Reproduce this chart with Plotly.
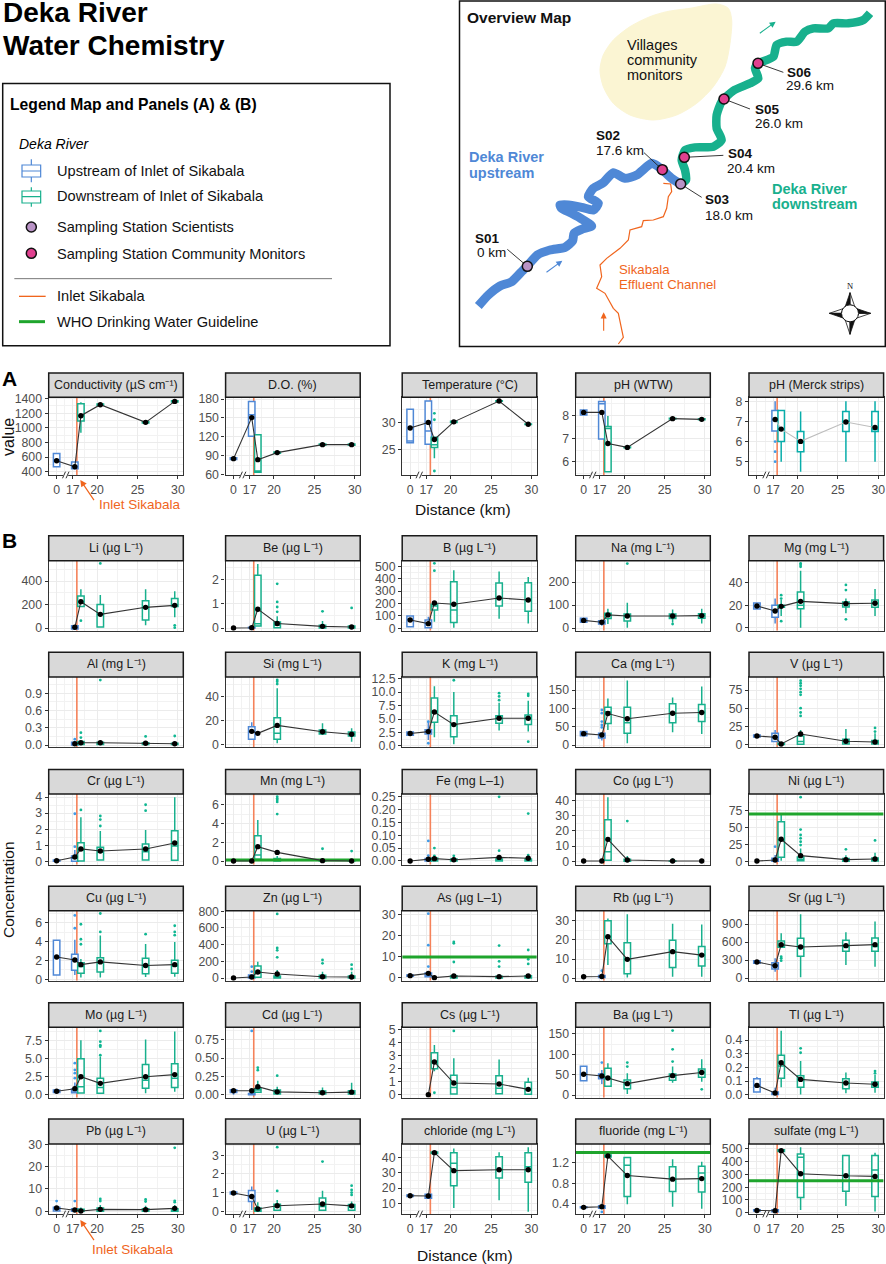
import plotly.graph_objects as go

W, H = 886, 1264
FONT = "Liberation Sans"

# station positions on the broken distance axis (0 km is drawn at 15)
station_x = [15, 17.25, 18, 20.4, 26, 29.6]
x_tick_vals = [15, 17, 20, 25, 30]
x_tick_text = ["0", "17", "20", "25", "30"]
x_minor = [16, 18.5, 22.5, 27.5]
inlet_x = 17.5

# each panel: mean per station, box per station (low, q1, median, q3, high), outliers (station, value), y tick labels
cond_mean = [551, 468, 1167, 1318, 1076, 1363]
cond_box = [(468, 468, 560, 651, 651), (441, 441, 468, 532, 532), (934, 1094, 1167, 1331, 1350), (1308, 1310, 1318, 1326, 1328), (1066, 1068, 1076, 1084, 1086), (1353, 1355, 1363, 1371, 1373)]
cond_out = []
cond_ticks = ["400", "600", "800", "1000", "1200", "1400"]

do_mean = [85.4, 150.5, 83.8, 95, 107.6, 107.6]
do_box = [(84, 84, 85.4, 87, 87), (121, 121, 155, 176, 176), (63.7, 63.7, 66, 123.5, 123.5), (94, 94, 95, 96, 96), (106.5, 106.5, 107.6, 108.7, 108.7), (106.5, 106.5, 107.6, 108.7, 108.7)]
do_out = []
do_ticks = ["60", "90", "120", "150", "180"]

temp_mean = [29.06, 30.1, 26.9, 30.2, 34.1, 29.75]
temp_box = [(26.3, 26.3, 26.6, 32.56, 32.56), (26, 26, 28.5, 34.1, 34.1), (23.4, 25.4, 25.9, 27.3, 27.3), (30, 30.1, 30.2, 30.3, 30.4), (34, 34.05, 34.1, 34.15, 34.2), (29.6, 29.7, 29.75, 29.8, 29.9)]
temp_out = [(2, 31.8), (2, 30.6), (2, 21)]
temp_ticks = ["25", "30"]

phw_mean = [8.13, 8.13, 6.79, 6.62, 7.86, 7.83]
phw_box = [(8.02, 8.02, 8.13, 8.23, 8.23), (6.98, 6.98, 8.5, 8.6, 8.6), (5.57, 5.57, 7.44, 7.52, 7.97), (6.6, 6.6, 6.62, 6.64, 6.64), (7.84, 7.84, 7.86, 7.88, 7.88), (7.81, 7.81, 7.83, 7.85, 7.85)]
phw_out = []
phw_ticks = ["6", "7", "8"]

phm_mean = [None, 7.1, 6.62, 6.01, 6.97, 6.7]
phm_box = [None, (6.52, 6.52, 7.1, 7.54, 8), (5, 6, 6.62, 7.54, 7.54), (4.5, 5.5, 6, 6.5, 7.5), (5, 6.5, 7, 7.5, 8), (5, 6.5, 6.6, 7.5, 8)]
phm_out = [(1, 6), (1, 5.5), (1, 5)]
phm_ticks = ["5", "6", "7", "8"]

li_mean = [None, 6, 224, 116, 176, 193]
li_box = [None, (-8, -8, 5, 20, 20), (182, 182, 224, 272, 329), (8, 8, 116, 201, 281), (23, 68, 176, 233, 329), (91, 182, 196, 252, 312)]
li_out = [(2, 62), (3, 550), (5, 23), (5, 3)]
li_ticks = ["0", "200", "400"]

be_mean = [0, 0.01, 0.78, 0.19, 0.07, 0.04]
be_box = [None, (0, 0, 0.01, 0.03, 0.12), (0.08, 0.08, 0.18, 2.18, 2.65), (0.01, 0.01, 0.12, 0.25, 0.49), (0, 0, 0.05, 0.12, 0.29), (0, 0, 0.02, 0.08, 0.08)]
be_out = [(3, 0.67), (3, 0.87), (3, 1.08), (3, 1.83), (4, 0.69), (5, 0.83)]
be_ticks = ["0", "1", "2"]

b_mean = [67, 38, 204, 194, 245, 228]
b_box = [(13, 13, 72, 99, 99), (5, 5, 35, 67, 94), (54, 148, 180, 194, 194), (5, 48, 148, 376, 468), (78, 180, 245, 366, 457), (40, 137, 228, 368, 414)]
b_out = [(2, 524), (2, 465)]
b_ticks = ["0", "100", "200", "300", "400", "500"]

na_mean = [33, 25, 57, 52, 52, 54]
na_box = [(25, 25, 33, 42, 42), (10, 17, 25, 32, 32), (17, 41, 57, 64, 84), (1, 30, 52, 61, 110), (23, 41, 52, 61, 81), (20, 42, 54, 62, 84)]
na_out = [(3, 280), (4, 17)]
na_ticks = ["0", "100", "200"]

mg_mean = [19.4, 15, 19.1, 23.5, 21.5, 21.8]
mg_box = [(16.8, 16.8, 19.4, 22, 22), (4, 9.4, 15, 20, 26), (10.6, 18.2, 19, 20, 24.7), (0.3, 17, 20, 31.8, 50.6), (13, 18.5, 21.8, 23, 26), (10.6, 18.2, 21.8, 24.7, 34.4)]
mg_out = [(2, 29), (2, 26), (2, 6), (3, 57), (3, 55.6), (3, 54), (4, 38), (4, 33.5), (4, 7.6)]
mg_ticks = ["0", "20", "40"]

al_mean = [None, 0.023, 0.04, 0.04, 0.03, 0.023]
al_box = [None, (0, 0, 0.02, 0.05, 0.05), (0.01, 0.01, 0.03, 0.06, 0.06), (0.01, 0.01, 0.03, 0.05, 0.05), (0.01, 0.01, 0.02, 0.04, 0.04), (0.01, 0.01, 0.02, 0.03, 0.03)]
al_out = [(1, 0.1), (2, 0.215), (2, 0.13), (3, 1.13), (4, 0.15), (5, 0.157)]
al_ticks = ["0.0", "0.3", "0.6", "0.9"]

si_mean = [None, 10.9, 9.2, 15.9, 10.6, 8.4]
si_box = [None, (4.2, 4.2, 10.6, 14.8, 18.5), None, (0.8, 4.2, 9.2, 22.4, 47), (7.8, 8.7, 10.6, 12, 17.6), (2.2, 7, 8.4, 10.3, 13.4)]
si_out = [(3, 54), (3, 52.6), (3, 50.6)]
si_ticks = ["0", "20", "40"]

k_mean = [2.3, 2.66, 6.3, 3.96, 5.14, 5.14]
k_box = [(2, 2, 2.3, 2.6, 2.6), (1.1, 2.2, 2.66, 3, 4.7), (1.6, 4.4, 6.3, 8.9, 11.1), (0.3, 1.7, 3.96, 5.6, 10), (2.85, 4.2, 5.14, 5.6, 8), (2.66, 4, 5.14, 5.75, 8.4)]
k_out = [(1, 0.5), (1, 4.5), (3, 12.2), (4, 9.8), (4, 9.2), (4, 8.5), (5, 9.65), (5, 9.3), (5, 0.8)]
k_ticks = ["0.0", "2.5", "5.0", "7.5", "10.0", "12.5"]

ca_mean = [31, 27.4, 86, 72, 87, 88.7]
ca_box = [(25.6, 25.6, 31, 36.6, 36.6), (12, 19, 27.4, 32, 32), (41, 58.6, 91, 103, 127), (4.6, 32, 61, 103, 176.6), (35, 61, 87, 112.5, 130), (30, 64, 88.7, 110.7, 160)]
ca_out = [(1, 96), (1, 87), (1, 64), (1, 55), (1, 48)]
ca_ticks = ["0", "50", "100", "150"]

v_mean = [12.3, 10.5, 1.4, 15, 5, 4.1]
v_box = [(10.8, 10.8, 12.3, 13.7, 13.7), (4.6, 4.6, 10.5, 16, 20.6), (0.5, 0.5, 1.4, 2.5, 2.5), (0.9, 0.9, 4.6, 12.3, 20.6), (1.4, 1.4, 5, 7.8, 22), (1.4, 1.4, 4.1, 6, 16)]
v_out = [(3, 88), (3, 84.6), (3, 81), (3, 76.8), (3, 72.2), (3, 68.6), (3, 50.3), (3, 44.4), (3, 39.8), (5, 23.3), (5, 18.3)]
v_ticks = ["0", "25", "50", "75"]

cr_mean = [0.04, 0.27, 0.77, 0.64, 0.77, 1.14]
cr_box = [(0, 0, 0.04, 0.08, 0.08), (0, 0, 0.19, 0.33, 0.7), (0.02, 0.02, 0.7, 1.16, 2.74), (0.08, 0.08, 0.56, 0.87, 1.89), (0.08, 0.08, 0.6, 1.08, 1.95), (0.06, 0.06, 0.95, 1.9, 3.98)]
cr_out = [(1, 0.91), (1, 2.96), (2, 3.2), (3, 2.82), (3, 2.6), (3, 2.2), (4, 3.52), (4, 3.15)]
cr_ticks = ["0", "1", "2", "3", "4"]

mn_mean = [0, 0, 1.53, 0.92, 0.04, 0]
mn_box = [None, None, (0.18, 0.18, 0.64, 2.7, 4.37), (0, 0, 0.1, 0.28, 0.53), (0, 0, 0.02, 0.08, 0.28), (0, 0, 0.01, 0.05, 0.05)]
mn_out = [(3, 5), (3, 6.3), (3, 6.5), (3, 6.67), (3, 6.85), (4, 1.31), (5, 1.06)]
mn_ticks = ["0", "2", "4", "6"]

fe_mean = [0, 0.0065, 0.009, 0.005, 0.014, 0.0104]
fe_box = [None, (0, 0, 0.004, 0.01, 0.01), (0, 0, 0.005, 0.012, 0.012), (0, 0, 0.003, 0.008, 0.008), (0, 0, 0.004, 0.008, 0.008), (0, 0, 0.003, 0.008, 0.008)]
fe_out = [(1, 0.078), (1, 0.021), (2, 0.05), (2, 0.02), (3, 0.02), (4, 0.249), (4, 0.04), (5, 0.184), (5, 0.023)]
fe_ticks = ["0.00", "0.05", "0.10", "0.15", "0.20", "0.25"]

co_mean = [0.2, 0.2, 14.4, 0.9, 0.2, 0.2]
co_box = [None, None, (0.65, 0.65, 6.3, 27.3, 42), (0, 0, 0.5, 1.3, 3.5), (0, 0, 0.1, 0.3, 2), None]
co_out = [(3, 26.4)]
co_ticks = ["0", "10", "20", "30", "40"]

ni_mean = [0.5, 2, 32.6, 8.4, 2.5, 3.5]
ni_box = [None, (0, 0, 1.5, 4.4, 9.4), (1, 6, 31.6, 58.7, 70), (1, 1, 3, 6.4, 19), (0, 0, 2, 4, 9), (0.5, 0.5, 3, 5, 12.8)]
ni_out = [(1, 21.7), (3, 95), (3, 47), (3, 39), (3, 34), (3, 29), (3, 24), (4, 17.8), (5, 31)]
ni_ticks = ["0", "25", "50", "75"]

cu_mean = [2.38, 2.06, 1.56, 1.85, 1.46, 1.56]
cu_box = [(0.46, 0.46, 2.38, 4.15, 4.15), (0.46, 0.96, 2.06, 2.66, 4.2), (0.18, 0.64, 1.35, 1.77, 2.17), (0.2, 0.78, 1.77, 2.3, 4.65), (0.25, 0.6, 1.35, 2.24, 3.76), (0.28, 0.64, 1.42, 2.02, 3.98)]
cu_out = [(1, 6.8), (1, 5.43), (2, 5.86), (2, 4.26), (2, 3.73), (3, 7), (3, 5.04), (4, 4.8), (5, 5.7), (5, 5.04), (5, 4.7)]
cu_ticks = ["0", "2", "4", "6"]

zn_mean = [0, 12, 72, 48, 16, 12]
zn_box = [None, (0, 0, 6, 36, 36), (8, 8, 56, 144, 196), (0, 0, 8, 24, 96), (0, 0, 8, 32, 76), (0, 0, 6, 24, 76)]
zn_out = [(1, 136), (1, 76), (3, 768), (3, 360), (3, 332), (3, 248), (4, 216), (4, 176), (5, 160), (5, 108)]
zn_ticks = ["0", "200", "400", "600", "800"]

as_mean = [1.1, 2.2, 0.16, 0.95, 0.63, 0.95]
as_box = [(0.8, 0.8, 1.1, 1.4, 1.4), (0.6, 0.6, 1.2, 2.4, 2.4), None, (0, 0, 0.4, 1, 1), (0, 0, 0.3, 0.8, 0.8), (0, 0, 0.4, 1, 1)]
as_out = [(1, 30.6), (1, 15.6), (1, 5.4), (3, 17.1), (3, 16.5), (3, 7.6), (4, 15.4), (4, 7.9), (4, 5.4), (5, 13.3), (5, 8.9), (5, 6.7)]
as_ticks = ["0", "10", "20", "30"]

rb_mean = [0.87, 1, 21.7, 9.9, 13.9, 12.1]
rb_box = [None, (0.5, 0.5, 1, 1.5, 1.5), (6.9, 18, 21.7, 30, 31.2), (0.5, 2.4, 9.9, 18.5, 33.3), (0.9, 5.7, 13.9, 19.8, 28.4), (0.9, 6.4, 12.1, 16.6, 28)]
rb_out = [(1, 4)]
rb_ticks = ["0", "10", "20", "30"]

sr_mean = [267, 205, 556, 517, 539, 556]
sr_box = [(244, 244, 267, 289, 289), (105, 150, 205, 255, 328), (511, 511, 524, 617, 744), (11, 361, 531, 661, 1061), (217, 444, 527, 628, 761), (189, 444, 524, 667, 944)]
sr_out = [(2, 356), (2, 328), (2, 289)]
sr_ticks = ["0", "300", "600", "900"]

mo_mean = [0.47, 0.84, 2.5, 1.58, 2.5, 2.8]
mo_box = [(0.3, 0.3, 0.47, 0.65, 0.65), (0.28, 0.28, 0.5, 0.8, 1.7), (0.23, 0.23, 1.1, 5, 7.6), (0.1, 0.2, 1, 2.3, 5.3), (0.2, 0.9, 2, 4.2, 7.7), (0.4, 1, 2.3, 4.3, 8.8)]
mo_out = [(1, 4.4), (1, 3.45), (1, 3), (1, 2.3), (3, 8.9), (3, 7.4), (3, 6.9), (3, 6.7), (3, 5.5)]
mo_ticks = ["0.0", "2.5", "5.0", "7.5"]

cd_mean = [0.055, 0.055, 0.11, 0.04, 0.027, 0.036]
cd_box = [(0, 0.03, 0.05, 0.07, 0.07), (0, 0, 0.005, 0.018, 0.018), (0.036, 0.036, 0.064, 0.086, 0.19), (0.01, 0.01, 0.035, 0.064, 0.11), (0.01, 0.01, 0.025, 0.05, 0.1), (0.01, 0.01, 0.03, 0.055, 0.164)]
cd_out = [(1, 0.87), (2, 0.37), (2, 0.336), (3, 0.26)]
cd_ticks = ["0.00", "0.25", "0.50", "0.75"]

cs_mean = [None, 0, 2.51, 0.9, 0.82, 0.41]
cs_box = [None, None, (1.8, 2, 2.51, 3.23, 3.82), (0.05, 0.05, 0.56, 1.5, 2.8), (0.08, 0.08, 0.49, 1.46, 2.7), (0.03, 0.03, 0.36, 0.95, 1.3)]
cs_out = [(2, 0.15), (3, 4.9)]
cs_ticks = ["0", "1", "2", "3", "4", "5"]

ba_mean = [50.8, 46.7, 41.8, 27.9, 47.5, 55]
ba_box = [(35, 35, 50.8, 70.5, 70.5), (27, 40, 46.7, 51.6, 61.5), (21.3, 21.3, 41, 65.6, 77.9), (2.5, 15.6, 27, 36.9, 53.3), (30, 36, 45, 51.6, 69.7), (32.8, 43.4, 55, 63.9, 87.7)]
ba_out = [(1, 79.5), (3, 79.5), (3, 69.7), (4, 158), (4, 112), (4, 82), (5, 14)]
ba_ticks = ["0", "50", "100", "150"]

tl_mean = [0.068, 0.012, 0.234, 0.112, 0.085, 0.076]
tl_box = [(0.02, 0.02, 0.068, 0.117, 0.13), (0.002, 0.002, 0.01, 0.02, 0.05), (0.054, 0.12, 0.21, 0.288, 0.468), (0.002, 0.054, 0.112, 0.139, 0.246), (0.01, 0.044, 0.085, 0.117, 0.163), (0.015, 0.054, 0.076, 0.093, 0.144)]
tl_out = [(3, 0.339), (3, 0.307), (5, 0.173), (5, 0.156)]
tl_ticks = ["0.0", "0.1", "0.2", "0.3", "0.4"]

pb_mean = [1.48, 0.59, 0.15, 0.89, 0.74, 1.33]
pb_box = [(0.15, 0.15, 1, 1.77, 1.77), (0, 0, 0.6, 1.2, 1.2), (0, 0, 0.1, 0.9, 1.7), (0, 0, 0.6, 1.5, 2.8), (0, 0, 0.5, 1.2, 2.5), (0, 0, 0.5, 1.1, 2.8)]
pb_out = [(0, 4.6), (1, 4.6), (3, 5.5), (3, 4.6), (4, 5.3), (4, 4.4), (5, 28.4), (5, 4.7), (5, 4.1)]
pb_ticks = ["0", "10", "20", "30"]

u_mean = [0.98, 0.79, 0.125, 0.3, 0.39, 0.29]
u_box = [(0.93, 0.93, 0.98, 1.03, 1.03), (0.07, 0.52, 0.79, 1.11, 1.32), (0, 0, 0.1, 0.18, 0.48), (0.05, 0.05, 0.25, 0.375, 0.6), (0.05, 0.05, 0.25, 0.71, 1.1), (0.05, 0.05, 0.21, 0.36, 0.52)]
u_out = [(3, 3.43), (3, 1.09), (4, 2.66), (5, 1.37), (5, 1.14), (5, 1), (5, 0.875)]
u_ticks = ["0", "1", "2", "3"]

cl_mean = [15, 14.8, 43.3, 31.5, 32.1, 32.1]
cl_box = [(14.5, 14.5, 15, 15.5, 15.5), (13.3, 13.3, 14.8, 16, 16), (42.8, 42.8, 43.3, 43.8, 43.8), (7, 21.6, 36.3, 43.3, 46), (12, 26.6, 32.1, 40.7, 43.5), (4.5, 23.8, 34, 43.3, 46.8)]
cl_out = []
cl_ticks = ["10", "20", "30", "40"]

f_mean = [0.33, 0.34, 1.33, 0.95, 0.88, 0.89]
f_box = [(0.32, 0.32, 0.33, 0.34, 0.34), (0.31, 0.31, 0.34, 0.36, 0.36), (1.31, 1.31, 1.33, 1.35, 1.35), (0.39, 0.54, 1.15, 1.3, 1.3), (0.34, 0.64, 0.88, 1.12, 1.27), (0.3, 0.63, 1, 1.13, 1.22)]
f_out = [(1, 0.24)]
f_ticks = ["0.4", "0.8", "1.2"]

so4_mean = [18, 16, 487, 306, 290, 285]
so4_box = [(13, 13, 18, 23, 23), (8, 8, 16, 24, 24), (480, 480, 487, 494, 494), (21, 120, 435, 461, 513), (52, 168, 290, 448, 448), (10, 128, 335, 448, 471)]
so4_out = []
so4_ticks = ["0", "100", "200", "300", "400", "500"]

# title, mean, box, outliers, ticks, y range, guideline
row_a = [
    ("Conductivity (µS cm⁻¹)", cond_mean, cond_box, cond_out, cond_ticks, (355, 1419), None),
    ("D.O. (%)", do_mean, do_box, do_out, do_ticks, (59.5, 182.7), None),
    ("Temperature (°C)", temp_mean, temp_box, temp_out, temp_ticks, (20.25, 34.8), None),
    ("pH (WTW)", phw_mean, phw_box, phw_out, phw_ticks, (5.43, 8.78), None),
    ("pH (Merck strips)", phm_mean, phm_box, phm_out, phm_ticks, (4.34, 8.2), None),
]
rows_b = [
    [("Li (µg L⁻¹)", li_mean, li_box, li_out, li_ticks, (-23, 573), None),
     ("Be (µg L⁻¹)", be_mean, be_box, be_out, be_ticks, (-0.11, 2.785), None),
     ("B (µg L⁻¹)", b_mean, b_box, b_out, b_ticks, (-19, 545), None),
     ("Na (mg L⁻¹)", na_mean, na_box, na_out, na_ticks, (-11.7, 292.6), None),
     ("Mg (mg L⁻¹)", mg_mean, mg_box, mg_out, mg_ticks, (-2.4, 59.4), None)],
    [("Al (mg L⁻¹)", al_mean, al_box, al_out, al_ticks, (-0.04, 1.184), None),
     ("Si (mg L⁻¹)", si_mean, si_box, si_out, si_ticks, (-2.5, 56.5), None),
     ("K (mg L⁻¹)", k_mean, k_box, k_out, k_ticks, (-0.25, 12.8), None),
     ("Ca (mg L⁻¹)", ca_mean, ca_box, ca_out, ca_ticks, (-6.3, 186), None),
     ("V (µg L⁻¹)", v_mean, v_box, v_out, v_ticks, (-3.2, 93), None)],
    [("Cr (µg L⁻¹)", cr_mean, cr_box, cr_out, cr_ticks, (-0.21, 4.19), None),
     ("Mn (mg L⁻¹)", mn_mean, mn_box, mn_out, mn_ticks, (-0.39, 7.14), 0.1),
     ("Fe (mg L–1)", fe_mean, fe_box, fe_out, fe_ticks, (-0.0144, 0.26), None),
     ("Co (µg L⁻¹)", co_mean, co_box, co_out, co_ticks, (-2.2, 44.1), None),
     ("Ni (µg L⁻¹)", ni_mean, ni_box, ni_out, ni_ticks, (-5, 99.7), 70)],
    [("Cu (µg L⁻¹)", cu_mean, cu_box, cu_out, cu_ticks, (-0.15, 7.3), None),
     ("Zn (µg L⁻¹)", zn_mean, zn_box, zn_out, zn_ticks, (-32, 807), None),
     ("As (µg L–1)", as_mean, as_box, as_out, as_ticks, (-1.3, 32), 10),
     ("Rb (µg L⁻¹)", rb_mean, rb_box, rb_out, rb_ticks, (-1.2, 35.2), None),
     ("Sr (µg L⁻¹)", sr_mean, sr_box, sr_out, sr_ticks, (-45, 1122), None)],
    [("Mo (µg L⁻¹)", mo_mean, mo_box, mo_out, mo_ticks, (-0.42, 9.4), None),
     ("Cd (µg L⁻¹)", cd_mean, cd_box, cd_out, cd_ticks, (-0.04, 0.92), None),
     ("Cs (µg L⁻¹)", cs_mean, cs_box, cs_out, cs_ticks, (-0.23, 5.18), None),
     ("Ba (µg L⁻¹)", ba_mean, ba_box, ba_out, ba_ticks, (-6.6, 166), None),
     ("Tl (µg L⁻¹)", tl_mean, tl_box, tl_out, tl_ticks, (-0.022, 0.493), None)],
    [("Pb (µg L⁻¹)", pb_mean, pb_box, pb_out, pb_ticks, (-1.2, 30.1), None),
     ("U (µg L⁻¹)", u_mean, u_box, u_out, u_ticks, (-0.145, 3.6), None),
     ("chloride (mg L⁻¹)", cl_mean, cl_box, cl_out, cl_ticks, (3, 49), None),
     ("fluoride (mg L⁻¹)", f_mean, f_box, f_out, f_ticks, (0.2, 1.565), 1.4),
     ("sulfate (mg L⁻¹)", so4_mean, so4_box, so4_out, so4_ticks, (-10, 539), 250)],
]

# map geometry, in map units
river_up_x = [85, 115, 150, 185, 215, 232, 262, 300, 345, 368, 372, 395, 425, 400, 365, 335, 330, 355, 395, 430, 445, 415, 430, 460, 490, 525, 560, 605, 625, 640, 665, 692]
river_up_y = [918, 885, 858, 845, 815, 798, 765, 750, 742, 722, 700, 688, 678, 660, 640, 625, 615, 615, 622, 630, 610, 590, 565, 548, 518, 535, 525, 490, 500, 512, 535, 552]
river_down_x = [692, 708, 705, 695, 705, 735, 790, 815, 800, 800, 815, 850, 900, 925, 915, 925, 970, 980, 1010, 1040, 1065, 1090, 1135, 1150, 1195, 1240, 1260]
river_down_y = [552, 540, 510, 480, 450, 442, 440, 420, 385, 345, 305, 272, 250, 235, 205, 190, 170, 135, 125, 125, 95, 85, 85, 70, 70, 60, 40]
channel_x = [640, 662, 665, 655, 650, 640, 610, 580, 575, 540, 535, 510, 470, 450, 455, 440, 465, 490, 505, 515, 520, 505]
channel_y = [550, 552, 575, 590, 625, 650, 660, 662, 680, 690, 720, 745, 775, 795, 830, 865, 880, 925, 940, 990, 1012, 1032]
blob_x = [845, 840, 825, 790, 740, 680, 610, 540, 490, 460, 450, 460, 490, 540, 600, 650, 720, 800, 835, 845]
blob_y = [60, 130, 200, 260, 310, 345, 360, 345, 310, 260, 210, 165, 120, 80, 50, 35, 25, 12, 25, 60]
stations_name = ["S01", "S02", "S03", "S04", "S05", "S06"]
stations_km = ["0 km", "17.6 km", "18.0 km", "20.4 km", "26.0 km", "29.6 km"]
stations_mx = [232, 637, 692, 703, 822, 924]
stations_my = [799, 509, 552, 472, 297, 190]
stations_kind = ["s", "c", "s", "c", "c", "c"]
leader_ex = [172, 582, 755, 820, 900, 1000]
leader_ey = [748, 458, 592, 466, 327, 217]
name_x = [73, 436, 763, 831, 913, 1008]
name_y = [714, 405, 597, 461, 327, 216]
km_x = [77, 434, 763, 829, 913, 1006]
km_y = [757, 451, 645, 506, 371, 255]

BLUE = "#4f88d6"
GREEN = "#18b08d"
TEAL = "#08adaa"
ORANGE = "#f0651d"
INLET = "#f5825a"
WHO = "#1fa52d"
PURPLE = "#b993c6"
PINK = "#e0408f"

X_RANGE = [14.02, 30.66]
col_l = [48.7, 225.6, 402.2, 575.7, 749.0]
col_w = 134.6
rows_geom = [  # strip top, plot top, plot bottom
    (373.0, 397.3, 475.0),
    (535.7, 560.7, 630.7),
    (652.3, 677.0, 747.3),
    (769.5, 794.0, 864.7),
    (886.3, 910.7, 980.7),
    (1002.7, 1027.3, 1097.7),
    (1119.0, 1144.0, 1214.0),
]


def fx(p):
    return p / W


def fy(p):
    return 1 - p / H


fig = go.Figure()
shapes, annots = [], []
layout = {}
axis_n = 0


def text(xp, yp, s, size=12, color="#000", bold=False, italic=False, anchor="left", angle=0):
    if bold:
        s = "<b>" + s + "</b>"
    if italic:
        s = "<i>" + s + "</i>"
    if anchor == "left":
        xp -= 2
    annots.append(dict(x=fx(xp), y=fy(yp), xref="paper", yref="paper", text=s, showarrow=False,
                       xanchor=anchor, yanchor="middle", textangle=angle,
                       font=dict(family=FONT, size=size, color=color)))


def rect(x0, y0, x1, y1, line="#000", lw=1.5, fill="rgba(0,0,0,0)"):
    shapes.append(dict(type="rect", xref="paper", yref="paper", x0=fx(x0), x1=fx(x1), y0=fy(y0), y1=fy(y1),
                       line=dict(color=line, width=lw), fillcolor=fill, layer="above"))


def seg(x0, y0, x1, y1, color, lw):
    shapes.append(dict(type="line", xref="paper", yref="paper", x0=fx(x0), x1=fx(x1), y0=fy(y0), y1=fy(y1),
                       line=dict(color=color, width=lw), layer="above"))


def add_panel(spec, row, col, show_x):
    global axis_n
    title, mean, box, out, ticks, yr, who = spec
    axis_n += 1
    sx = "" if axis_n == 1 else str(axis_n)
    xid, yid = "x" + sx, "y" + sx
    top_s, top, bot = rows_geom[row]
    left = col_l[col]
    tickvals = [float(t) for t in ticks]
    step = tickvals[1] - tickvals[0]
    minor = [tickvals[0] - step / 2] + [t + step / 2 for t in tickvals]
    layout["xaxis" + sx] = dict(domain=[fx(left), fx(left + col_w)], range=X_RANGE, anchor=yid, automargin=False,
                                tickvals=x_tick_vals, ticktext=x_tick_text, showticklabels=show_x,
                                ticks="outside" if show_x else "", ticklen=3, tickcolor="#333", tickwidth=1.1,
                                tickfont=dict(family=FONT, size=12.3, color="#4d4d4d"),
                                showline=True, mirror=True, linecolor="#333", linewidth=1.4,
                                showgrid=True, gridcolor="#ebebeb", gridwidth=1, zeroline=False,
                                minor=dict(tickvals=x_minor, showgrid=True, gridcolor="#f2f2f2", gridwidth=0.6, ticks=""))
    layout["yaxis" + sx] = dict(domain=[fy(bot), fy(top)], range=list(yr), anchor=xid, automargin=False,
                                tickvals=tickvals, ticktext=ticks, ticks="outside", ticklen=3, tickcolor="#333",
                                tickwidth=1.1, tickfont=dict(family=FONT, size=12.3, color="#4d4d4d"),
                                showline=True, mirror=True, linecolor="#333", linewidth=1.4,
                                showgrid=True, gridcolor="#ebebeb", gridwidth=1, zeroline=False,
                                minor=dict(tickvals=minor, showgrid=True, gridcolor="#f2f2f2", gridwidth=0.6, ticks=""))
    # inlet
    shapes.append(dict(type="line", xref=xid, yref=yid, x0=inlet_x, x1=inlet_x, y0=yr[0], y1=yr[1],
                       line=dict(color=INLET, width=1.6), layer="between"))
    # strip
    rect(left, top_s, left + col_w, top, line="#1a1a1a", lw=1.5, fill="#d9d9d9")
    text(left + col_w / 2, (top_s + top) / 2 - 0.3, title, size=12.5, color="#1a1a1a", anchor="center")
    # boxes
    merck = title.startswith("pH (Merck")
    for idxs, color, lw in (([0, 1], BLUE, 1.5), ([2, 3, 4, 5], TEAL if merck else GREEN, 1.5)):
        idxs = [i for i in idxs if box[i] is not None]
        if not idxs:
            continue
        fig.add_trace(go.Box(x=[station_x[i] for i in idxs], lowerfence=[box[i][0] for i in idxs],
                             q1=[box[i][1] for i in idxs], median=[box[i][2] for i in idxs],
                             q3=[box[i][3] for i in idxs], upperfence=[box[i][4] for i in idxs],
                             width=0.8, whiskerwidth=0, boxpoints=False, fillcolor="white",
                             line=dict(color=color, width=lw), xaxis=xid, yaxis=yid,
                             showlegend=False, hoverinfo="skip"))
    # outliers
    for sel, color in ((lambda i: i < 2, "#3f9be8"), (lambda i: i >= 2, TEAL if merck else "#0fb792")):
        pts = [o for o in out if sel(o[0])]
        if pts:
            fig.add_trace(go.Scatter(x=[station_x[o[0]] for o in pts], y=[o[1] for o in pts], mode="markers",
                                     marker=dict(size=2.8, color=color), xaxis=xid, yaxis=yid,
                                     showlegend=False, hoverinfo="skip"))
    # guideline
    if who is not None:
        fig.add_trace(go.Scatter(x=X_RANGE, y=[who, who], mode="lines", line=dict(color=WHO, width=3),
                                 xaxis=xid, yaxis=yid, showlegend=False, hoverinfo="skip"))
    # means
    idx = [i for i, m in enumerate(mean) if m is not None]
    fig.add_trace(go.Scatter(x=[station_x[i] for i in idx], y=[mean[i] for i in idx], mode="lines+markers",
                             line=dict(color="#bdbdbd" if merck else "#333", width=1.1),
                             marker=dict(size=5.4, color="black"), xaxis=xid, yaxis=yid,
                             showlegend=False, hoverinfo="skip"))
    # axis break
    if show_x:
        seg(left + 14.5, bot, left + 19.5, bot, "white", 2.2)
        seg(left + 13.8, bot + 3.3, left + 16.8, bot - 3.3, "#333", 1)
        seg(left + 17.3, bot + 3.3, left + 20.3, bot - 3.3, "#333", 1)


for c, spec in enumerate(row_a):
    add_panel(spec, 0, c, True)
for r, row in enumerate(rows_b):
    for c, spec in enumerate(row):
        add_panel(spec, r + 1, c, r == len(rows_b) - 1)

# overlay axes for map and legend
map_id = axis_n + 1
leg_id = axis_n + 2
mx, my = "x%d" % map_id, "y%d" % map_id
lx, ly = "x%d" % leg_id, "y%d" % leg_id
hidden = dict(visible=False, showgrid=False, zeroline=False, fixedrange=True, automargin=False)
layout["xaxis%d" % map_id] = dict(hidden, domain=[fx(450), 1], range=[0, 1308], anchor=my)
layout["yaxis%d" % map_id] = dict(hidden, domain=[fy(350), 1], range=[1050, 0], anchor=mx)
layout["xaxis%d" % leg_id] = dict(hidden, domain=[0, fx(450)], range=[0, 1350], anchor=ly)
layout["yaxis%d" % leg_id] = dict(hidden, domain=[fy(350), 1], range=[1050, 0], anchor=lx)


def mscatter(xs, ys, **kw):
    fig.add_trace(go.Scatter(x=xs, y=ys, xaxis=mx, yaxis=my, showlegend=False, hoverinfo="skip", **kw))


def lscatter(xs, ys, **kw):
    fig.add_trace(go.Scatter(x=xs, y=ys, xaxis=lx, yaxis=ly, showlegend=False, hoverinfo="skip", **kw))


def mtext(x, y, s, size=13.5, color="#111", bold=False):
    if bold:
        s = "<b>" + s + "</b>"
    annots.append(dict(x=x - 3, y=y, xref=mx, yref=my, text=s, showarrow=False, xanchor="left", yanchor="middle",
                       font=dict(family=FONT, size=size, color=color)))


def marrow(x0, y0, x1, y1, color):
    annots.append(dict(x=x1, y=y1, ax=x0, ay=y0, xref=mx, yref=my, axref=mx, ayref=my, text="", showarrow=True,
                       arrowhead=2, arrowsize=1.1, arrowwidth=1.1, arrowcolor=color, standoff=0, startstandoff=0))


mscatter(blob_x, blob_y, mode="lines", fill="toself", fillcolor="#fbf5d3", line=dict(color="#fbf5d3", width=1, shape="spline", smoothing=0.8))
mscatter(channel_x, channel_y, mode="lines", line=dict(color=ORANGE, width=1.2))
mscatter(river_up_x, river_up_y, mode="lines", line=dict(color=BLUE, width=9, shape="spline", smoothing=0.6))
mscatter(river_down_x, river_down_y, mode="lines", line=dict(color=GREEN, width=8.5, shape="spline", smoothing=0.6))
for i in range(6):
    mscatter([stations_mx[i], leader_ex[i]], [stations_my[i], leader_ey[i]], mode="lines", line=dict(color="#222", width=0.9))
mscatter(stations_mx, stations_my, mode="markers",
         marker=dict(size=10, color=[PURPLE if k == "s" else PINK for k in stations_kind], line=dict(color="#111", width=1.5)))
for i in range(6):
    mtext(name_x[i], name_y[i], stations_name[i], size=13.5, bold=True)
    mtext(km_x[i], km_y[i], stations_km[i], size=13.5)
marrow(285, 820, 337, 782, BLUE)
marrow(925, 103, 977, 65, GREEN)
marrow(461, 997, 461, 937, ORANGE)
mtext(47, 53, "Overview Map", size=15.5, bold=True)
mtext(55, 472, "Deka River", size=14.5, color=BLUE, bold=True)
mtext(55, 518, "upstream", size=14.5, color=BLUE, bold=True)
mtext(964, 568, "Deka River", size=14.5, color=GREEN, bold=True)
mtext(964, 613, "downstream", size=14.5, color=GREEN, bold=True)
mtext(527, 135, "Villages", size=14.5)
mtext(527, 180, "community", size=14.5)
mtext(527, 225, "monitors", size=14.5)
mtext(503, 809, "Sikabala", size=13.2, color=ORANGE)
mtext(503, 854, "Effluent Channel", size=13.2, color=ORANGE)
# compass
compass_dark = [
    ([1200, 1184, 1200], [878, 925, 912]), ([1262, 1215, 1228], [940, 924, 940]),
    ([1200, 1216, 1200], [1003, 955, 968]), ([1138, 1185, 1172], [940, 956, 940]),
]
compass_light = [
    ([1200, 1216, 1200], [878, 925, 912]), ([1262, 1215, 1228], [940, 956, 940]),
    ([1200, 1184, 1200], [1003, 955, 968]), ([1138, 1185, 1172], [940, 924, 940]),
]
for xs, ys in compass_light:
    mscatter(xs + xs[:1], ys + ys[:1], mode="lines", fill="toself", fillcolor="white", line=dict(color="#111", width=0.8))
for xs, ys in compass_dark:
    mscatter(xs + xs[:1], ys + ys[:1], mode="lines", fill="toself", fillcolor="#111", line=dict(color="#111", width=0.8))
mscatter([1200], [940], mode="markers", marker=dict(size=17, color="white", line=dict(color="#111", width=1)))
annots.append(dict(x=1200, y=858, xref=mx, yref=my, text="N", showarrow=False, font=dict(family="Liberation Serif", size=8.5, color="#111")))
rect(459.5, 1, 885.3, 346.5, line="#111", lw=1.5)

# legend panel
fig.add_trace(go.Box(x=[94], lowerfence=[478], q1=[495], median=[513], q3=[531], upperfence=[547], width=56, whiskerwidth=0,
                     boxpoints=False, fillcolor="white", line=dict(color=BLUE, width=1.2), xaxis=lx, yaxis=ly,
                     showlegend=False, hoverinfo="skip"))
fig.add_trace(go.Box(x=[94], lowerfence=[562], q1=[573], median=[590], q3=[609], upperfence=[620], width=56, whiskerwidth=0,
                     boxpoints=False, fillcolor="white", line=dict(color=GREEN, width=1.2), xaxis=lx, yaxis=ly,
                     showlegend=False, hoverinfo="skip"))
lscatter([94], [681], mode="markers", marker=dict(size=10, color=PURPLE, line=dict(color="#111", width=1.5)))
lscatter([94], [760], mode="markers", marker=dict(size=10, color=PINK, line=dict(color="#111", width=1.5)))
lscatter([43, 996], [836, 836], mode="lines", line=dict(color="#777", width=1))
lscatter([57, 137], [889, 889], mode="lines", line=dict(color=ORANGE, width=1.3))
lscatter([57, 135], [965, 965], mode="lines", line=dict(color=WHO, width=3))
rect(2.7, 83.5, 390, 345.7, line="#111", lw=1.5)
text(10, 104, "Legend Map and Panels (A) &amp; (B)", size=15.7, bold=True)
text(19.3, 143.5, "Deka River", size=14, italic=True)
for yz, s in ((514, "Upstream of Inlet of Sikabala"), (588, "Downstream of Inlet of Sikabala"),
              (680, "Sampling Station Scientists"), (762, "Sampling Station Community Monitors"),
              (889, "Inlet Sikabala"), (966, "WHO Drinking Water Guideline")):
    text(56.5, yz / 3, s, size=14.6, color="#111")

# titles
text(2.5, 12, "Deka River", size=28, bold=True)
text(2.5, 45.5, "Water Chemistry", size=28, bold=True)
text(2, 378, "A", size=21, bold=True)
text(1.5, 541, "B", size=21, bold=True)
text(9, 437, "value", size=16, color="#111", anchor="center", angle=-90)
text(8, 890, "Concentration", size=15.5, color="#111", anchor="center", angle=-90)
text(463, 510, "Distance (km)", size=15.5, color="#111", anchor="center")
text(465, 1255, "Distance (km)", size=15.5, color="#111", anchor="center")
text(99.3, 504.5, "Inlet Sikabala", size=13.5, color=ORANGE)
text(92.3, 1249.5, "Inlet Sikabala", size=13.5, color=ORANGE)
for tip_x, tip_y in ((80.3, 480), (80.3, 1220)):
    annots.append(dict(x=fx(tip_x), y=fy(tip_y), xref="paper", yref="paper", ax=14.7, ay=21.7, text="", showarrow=True,
                       arrowhead=2, arrowsize=1.1, arrowwidth=1.2, arrowcolor=ORANGE, standoff=0))

fig.update_layout(width=W, height=H, margin=dict(l=0, r=0, t=0, b=0), paper_bgcolor="white", plot_bgcolor="white",
                  showlegend=False, boxmode="overlay", shapes=shapes, annotations=annots,
                  font=dict(family=FONT), **layout)
fig.write_html("out.html", post_script="document.body.style.margin='0';", config=dict(displayModeBar=False))
